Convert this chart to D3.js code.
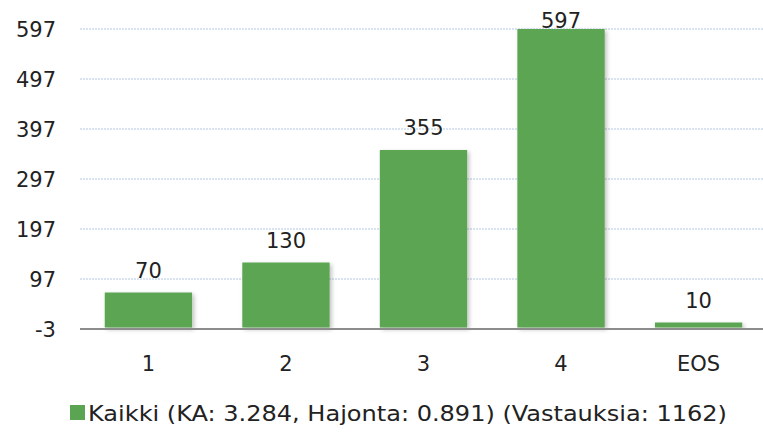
<!DOCTYPE html>
<html><head><meta charset="utf-8">
<script src="https://cdn.jsdelivr.net/npm/d3@7"></script>
<style>body{margin:0;background:#fff}svg{display:block}</style>
</head><body>
<script>
const categories = ["1","2","3","4","EOS"];
const values = [70,130,355,597,10];
const yTicks = [-3,97,197,297,397,497,597];
const legendLabel = "Kaikki (KA: 3.284, Hajonta: 0.891) (Vastauksia: 1162)";

const W = 763, H = 432;
const svg = d3.select("body").append("svg").attr("width", W).attr("height", H);
const x = d3.scaleBand().domain(categories).range([80, 767]).paddingInner(0.365).paddingOuter(0.18);
const y = d3.scaleLinear().domain([-3, 597]).range([329, 29]);
const font = "DejaVu Sans, Verdana, sans-serif";
const green = "#5ba552";
const fs = 21;

const defs = svg.append("defs");
const f = defs.append("filter").attr("id","sh").attr("x","-20%").attr("y","-20%").attr("width","140%").attr("height","140%");
f.append("feDropShadow").attr("dx",2).attr("dy",2).attr("stdDeviation",2).attr("flood-color","#000").attr("flood-opacity",0.25);

// gridlines
svg.append("g").selectAll("line").data(yTicks.filter(d => d !== -3)).join("line")
  .attr("x1", 80).attr("x2", W).attr("y1", d => y(d)).attr("y2", d => y(d))
  .attr("stroke", "#b4c7e0").attr("stroke-width", 1).attr("stroke-dasharray", "2,1");

// y axis labels
const yAxis = d3.axisLeft(y).tickValues(yTicks).tickSize(0).tickPadding(0).tickFormat(d => String(d));
const ya = svg.append("g").attr("transform", "translate(56,0)").call(yAxis);
ya.select(".domain").remove();
ya.selectAll("text").attr("font-family", font).attr("font-size", fs).attr("fill", "#222").attr("dy", "0.36em");

// bars
svg.append("g").selectAll("rect").data(values).join("rect")
  .attr("x", (d, i) => x(categories[i])).attr("width", x.bandwidth())
  .attr("y", d => y(d)).attr("height", d => y(0) - y(d))
  .attr("fill", green).attr("filter", "url(#sh)");

// baseline
svg.append("line").attr("x1", 80).attr("x2", W).attr("y1", y(-3)).attr("y2", y(-3))
  .attr("stroke", "#8c8c8c").attr("stroke-width", 2);

// value labels
svg.append("g").selectAll("text").data(values).join("text")
  .attr("x", (d, i) => x(categories[i]) + x.bandwidth() / 2).attr("y", d => Math.max(28, y(d) - 15))
  .attr("text-anchor", "middle").attr("font-family", font).attr("font-size", fs).attr("fill", "#222")
  .text(d => d);

// x axis labels
const xAxis = d3.axisBottom(x).tickSize(0).tickPadding(0);
const xa = svg.append("g").attr("transform", "translate(0,356)").call(xAxis);
xa.select(".domain").remove();
xa.selectAll("text").attr("font-family", font).attr("font-size", fs).attr("fill", "#222").attr("dy", "0.7em");

// legend
const lg = svg.append("g");
lg.append("rect").attr("x", 70).attr("y", 405).attr("width", 15).attr("height", 15).attr("fill", green);
lg.append("text").attr("x", 88).attr("y", 421).attr("font-family", "DejaVu Sans Condensed, DejaVu Sans, sans-serif")
  .attr("font-size", 22).attr("fill", "#222").attr("textLength", 639).attr("lengthAdjust", "spacingAndGlyphs").text(legendLabel);
</script>
</body></html>
